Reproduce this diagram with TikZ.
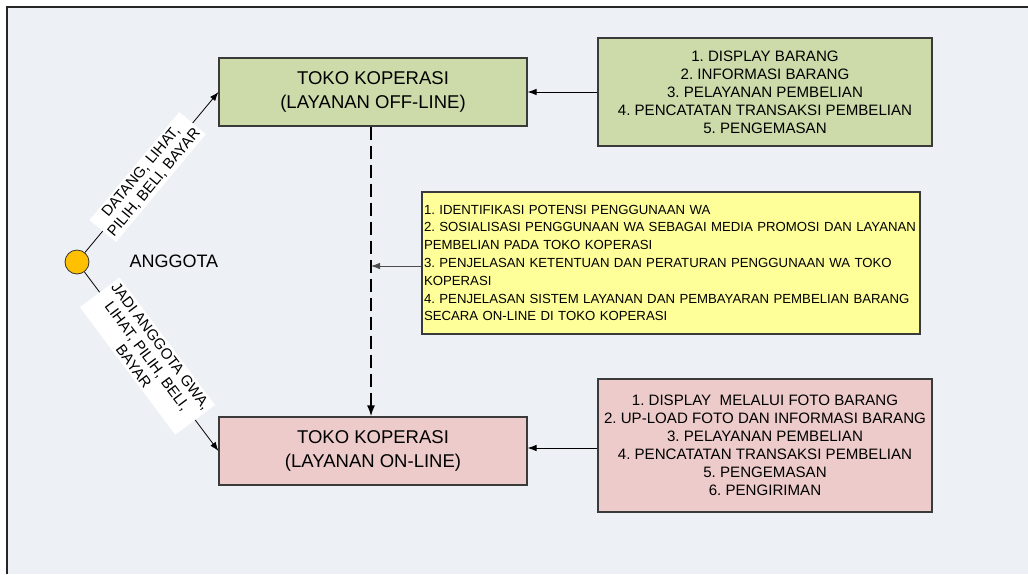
\documentclass[tikz,border=0pt]{standalone}
\usepackage{fontspec}
\setmainfont{Liberation Sans}
\usetikzlibrary{arrows.meta}
\frenchspacing
\definecolor{bgc}{HTML}{EDF0F5}
\definecolor{greenc}{HTML}{CCDBA9}
\definecolor{pinkc}{HTML}{ECCBCA}
\definecolor{yellowc}{HTML}{FFFF99}
\definecolor{dotc}{HTML}{FFC000}
\definecolor{edgec}{HTML}{3A3A3A}
\tikzset{
  box/.style={draw=edgec, line width=1.1pt, rectangle, inner sep=0pt},
  titlebox/.style={box, minimum width=308pt, minimum height=68pt, align=center,
    font=\fontsize{18.5}{23.3}\selectfont},
  listbox/.style={box, minimum width=334pt, align=center,
    font=\fontsize{15.1}{18}\selectfont},
  conn/.style={line width=0.8pt, -{Latex[length=9pt,width=6.5pt]}},
  lbl/.style={fill=white, sloped, align=center, inner sep=2.5pt,
    font=\fontsize{15}{17}\selectfont},
}
\begin{document}
\begin{tikzpicture}[x=1pt,y=-1pt]
\useasboundingbox (0,0) rectangle (1028,574);
\fill[white] (0,0) rectangle (1028,574);
\fill[bgc] (7,7) rectangle (1028,574);
\draw[line width=1.6pt, black!85] (7,574) -- (7,7) -- (1028,7);

\node[titlebox, fill=greenc] (off) at (373,92) {TOKO KOPERASI\\(LAYANAN OFF-LINE)};
\node[titlebox, fill=pinkc] (on) at (373,451) {TOKO KOPERASI\\(LAYANAN ON-LINE)};

\node[listbox, fill=greenc, minimum height=108pt] (gl) at (765,92)
  {1. DISPLAY BARANG\\2. INFORMASI BARANG\\3. PELAYANAN PEMBELIAN\\4. PENCATATAN TRANSAKSI PEMBELIAN\\5. PENGEMASAN};
\node[listbox, fill=pinkc, minimum height=133pt] (pl) at (765,445.5)
  {1. DISPLAY\ \ MELALUI FOTO BARANG\\2. UP-LOAD FOTO DAN INFORMASI BARANG\\3. PELAYANAN PEMBELIAN\\4. PENCATATAN TRANSAKSI PEMBELIAN\\5. PENGEMASAN\\6. PENGIRIMAN};
\node[box, fill=yellowc, minimum width=498pt, minimum height=142pt, text width=494pt,
  align=left, inner xsep=2pt, font=\fontsize{13.2}{17.8}\selectfont] (yl) at (671,263)
  {1. IDENTIFIKASI POTENSI PENGGUNAAN WA\\
   2. SOSIALISASI PENGGUNAAN WA SEBAGAI MEDIA PROMOSI DAN LAYANAN\\
   PEMBELIAN PADA TOKO KOPERASI\\
   3. PENJELASAN KETENTUAN DAN PERATURAN PENGGUNAAN WA TOKO\\
   KOPERASI\\
   4. PENJELASAN SISTEM LAYANAN DAN PEMBAYARAN PEMBELIAN BARANG\\
   SECARA ON-LINE DI TOKO KOPERASI};

\node[draw=black!80, line width=0.8pt, fill=dotc, circle, minimum size=24pt, inner sep=0pt] (m) at (77,262) {};
\node[font=\fontsize{18}{22}\selectfont, anchor=west] (ang) at (126,261) {ANGGOTA};

\coordinate (dj) at (yl.west |- 0,266);
\coordinate (dl) at (371,266);
\draw[line width=1.8pt, dash pattern=on 13pt off 6pt, -{Latex[length=11pt,width=8pt]}]
  (off.south -| dl) -- (on.north -| dl);
\draw[conn, black!70] (dj) -- (dl);
\draw[conn] (gl.west |- off.east) -- (off.east);
\draw[conn] (pl.west |- 0,448) -- (on.east |- 0,448);

\draw[conn] (m) -- (off.west) node[lbl, pos=0.47] (l1) {DATANG, LIHAT,\\PILIH, BELI, BAYAR};
\draw[conn] (m) -- (on.west) node[lbl, pos=0.47] (l2) {JADI ANGGOTA GWA,\\LIHAT, PILIH, BELI,\\BAYAR};
\end{tikzpicture}
\end{document}
